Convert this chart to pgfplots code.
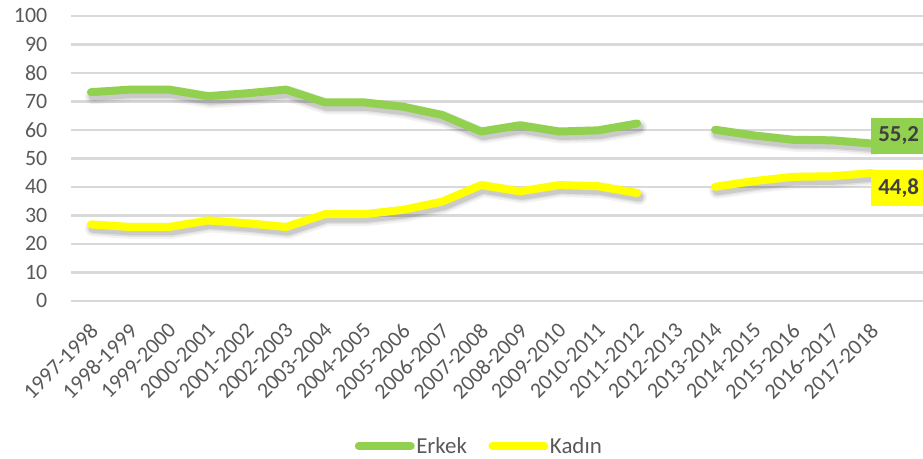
\documentclass[border=0pt]{standalone}
\usepackage{pgfplots}
\usepackage{pgfplotstable}
\pgfplotsset{compat=1.18}
\usepackage{fontspec}
\setmainfont{Carlito}
\definecolor{erkek}{RGB}{146,208,80}
\definecolor{kadin}{RGB}{255,255,0}
\definecolor{gridc}{RGB}{217,217,217}
\definecolor{txt}{RGB}{89,89,89}
\definecolor{lbl}{RGB}{64,64,64}
\newcommand{\bigf}{\fontsize{23}{27}\selectfont}
\newcommand{\tickf}{\fontsize{22}{26}\selectfont}
\pgfplotstableread{
x erkek kadin
0 73.2 26.8
1 74.1 25.9
2 74.1 25.9
3 71.8 28.2
4 72.8 27.2
5 74.1 25.9
6 69.6 30.4
7 69.6 30.4
8 68.1 31.9
9 65.2 34.8
10 59.4 40.6
11 61.6 38.4
12 59.4 40.6
13 59.8 40.2
14 62.2 37.8
15 nan nan
16 60.0 40.0
17 58.0 42.0
18 56.5 43.5
19 56.3 43.7
20 55.2 44.8
}\data
\pgfplotsset{shad/.style={forget plot, draw=black, line join=round, line cap=round, xshift=2bp, yshift=-4bp}}
\begin{document}
\begin{tikzpicture}
\begin{axis}[name=ax, scale only axis, width=851.5bp, height=285bp,
  xmin=-0.5, xmax=21.33, ymin=0, ymax=100,
  axis line style={draw=none}, tick style={draw=none},
  ytick={0,10,...,100}, ymajorgrids, grid style={gridc, line width=2.5bp},
  xtick={0,...,20},
  xticklabels={1997-1998,1998-1999,1999-2000,2000-2001,2001-2002,2002-2003,2003-2004,2004-2005,2005-2006,2006-2007,2007-2008,2008-2009,2009-2010,2010-2011,2011-2012,2012-2013,2013-2014,2014-2015,2015-2016,2016-2017,2017-2018},
  x tick label style={xshift=-2bp, yshift=-21bp, rotate=45, anchor=north east, inner sep=0pt},
  y tick label style={inner sep=0pt, xshift=-24bp},
  tick label style={font=\tickf, text=txt},
  /pgf/number format/assume math mode=true,
  unbounded coords=jump,
  clip=false,
  legend style={at={(axis description cs:0.4786,-0.5095)}, anchor=center, draw=none, fill=none,
    font=\bigf, text=txt, inner sep=0pt, legend columns=2,
    /tikz/every even column/.append style={column sep=20bp},
    nodes={inner sep=1.5bp}},
  legend image code/.code={\draw[#1, line cap=round] (0bp,0bp) -- (52bp,0bp);},
]
% soft shadows
\addplot[shad, opacity=0.05, line width=16bp] table[x=x, y=erkek] {\data};
\addplot[shad, opacity=0.07, line width=12bp] table[x=x, y=erkek] {\data};
\addplot[shad, opacity=0.10, line width=9bp] table[x=x, y=erkek] {\data};
\addplot[shad, opacity=0.05, line width=16bp] table[x=x, y=kadin] {\data};
\addplot[shad, opacity=0.07, line width=12bp] table[x=x, y=kadin] {\data};
\addplot[shad, opacity=0.10, line width=9bp] table[x=x, y=kadin] {\data};
% main lines
\addplot[draw=erkek, line width=8bp, line join=round, line cap=round] table[x=x, y=erkek] {\data};
\addlegendentry{Erkek}
\addplot[draw=kadin, line width=8bp, line join=round, line cap=round] table[x=x, y=kadin] {\data};
\addlegendentry{Kadın}
\node[fill=erkek, anchor=west, inner xsep=7bp, inner ysep=0pt, minimum height=36bp, font=\bigf\bfseries, text=lbl, yshift=7.5bp] at (axis cs:20,55.2) {55,2};
\node[fill=kadin, anchor=west, inner xsep=7bp, inner ysep=0pt, minimum height=36bp, font=\bigf\bfseries, text=lbl, yshift=-15bp] at (axis cs:20,44.8) {44,8};
\end{axis}
\pgfresetboundingbox
\path[use as bounding box] ([shift={(-71.5bp,-158.2bp)}]ax.south west) rectangle ([shift={(0bp,15.8bp)}]ax.north east);
\end{tikzpicture}
\end{document}
